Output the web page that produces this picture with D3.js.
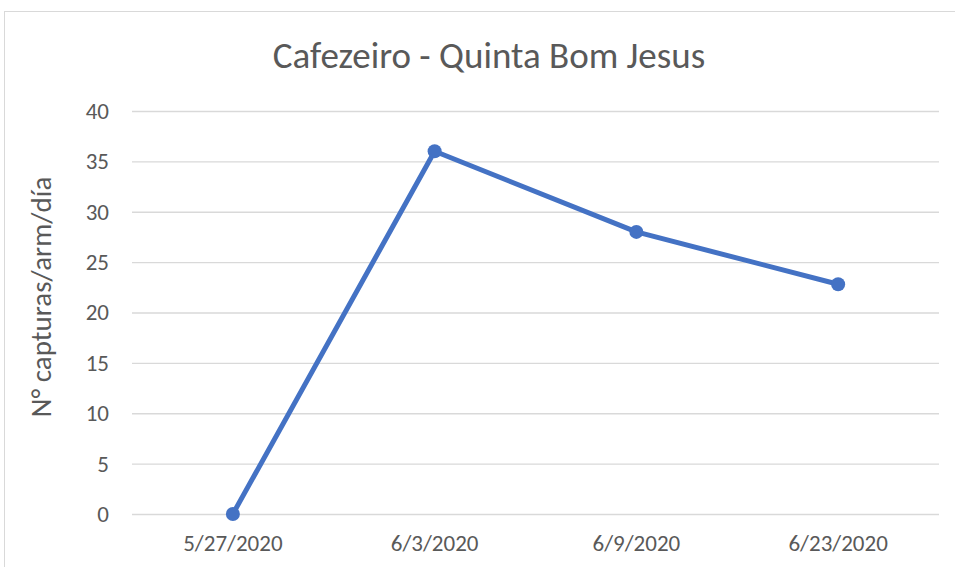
<!DOCTYPE html>
<html>
<head>
<meta charset="utf-8">
<script src="https://cdn.jsdelivr.net/npm/d3@7"></script>
<style>
  body { margin: 0; background: #fff; }
  svg { display: block; font-family: Calibri, Carlito, "Open Sans", sans-serif; }
</style>
</head>
<body>
<div id="chart"></div>
<script>
// data
const dates = ['5/27/2020', '6/3/2020', '6/9/2020', '6/23/2020'];
const captures = [0, 36, 28, 22.8];
const yTicks = [0, 5, 10, 15, 20, 25, 30, 35, 40];

const width = 955, height = 567;
const margin = { top: 111, right: 16, bottom: 53, left: 132 };
const plotW = width - margin.left - margin.right;
const plotH = height - margin.top - margin.bottom;
const font = 'Calibri, Carlito, "Open Sans", sans-serif';

const svg = d3.select('#chart').append('svg')
  .attr('width', width)
  .attr('height', height);

// chart border
svg.append('rect')
  .attr('x', 4.5).attr('y', 11.5)
  .attr('width', 1000).attr('height', 700)
  .attr('fill', 'none')
  .attr('stroke', '#d9d9d9')
  .attr('stroke-width', 1);

svg.append('text')
  .attr('x', 489).attr('y', 68)
  .attr('text-anchor', 'middle')
  .attr('font-size', 37)
  .attr('fill', '#595959')
  .text('Cafezeiro - Quinta Bom Jesus');

const g = svg.append('g')
  .attr('transform', `translate(${margin.left},${margin.top})`);

const x = d3.scaleBand().domain(dates).range([0, plotW]);
const y = d3.scaleLinear().domain([0, 40]).range([plotH, 0]);

// gridlines
const yAxis = g.append('g')
  .call(d3.axisLeft(y).tickValues(yTicks).tickSize(-plotW).tickPadding(23));
yAxis.attr('font-family', font);
yAxis.select('.domain').remove();
yAxis.selectAll('line').attr('stroke', '#d9d9d9').attr('stroke-width', 1.3);
yAxis.selectAll('text').attr('font-size', 23).attr('fill', '#595959');

const xAxis = g.append('g')
  .attr('transform', `translate(0,${plotH})`)
  .call(d3.axisBottom(x).tickSize(0).tickPadding(21));
xAxis.attr('font-family', font);
xAxis.select('.domain').remove();
xAxis.selectAll('text').attr('font-size', 23).attr('fill', '#595959');

svg.append('text')
  .attr('transform', 'translate(51,297) rotate(-90)')
  .attr('text-anchor', 'middle')
  .attr('font-size', 29)
  .attr('fill', '#595959')
  .text('N° capturas/arm/día');

const cx = d => x(d) + x.bandwidth() / 2;

g.append('path')
  .datum(captures)
  .attr('fill', 'none')
  .attr('stroke', '#4472C4')
  .attr('stroke-width', 5)
  .attr('stroke-linejoin', 'round')
  .attr('d', d3.line().x((d, i) => cx(dates[i])).y(d => y(d)));

g.selectAll('.pt')
  .data(captures)
  .join('circle')
  .attr('class', 'pt')
  .attr('cx', (d, i) => cx(dates[i]))
  .attr('cy', d => y(d))
  .attr('r', 7)
  .attr('fill', '#4472C4');
</script>
</body>
</html>
